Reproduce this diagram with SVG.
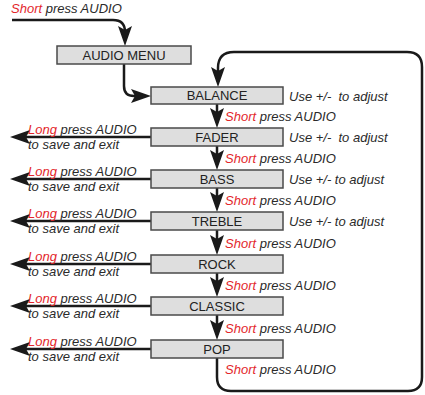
<svg xmlns="http://www.w3.org/2000/svg" width="425" height="395" viewBox="0 0 425 395">
<defs>
<marker id="ah" markerUnits="userSpaceOnUse" markerWidth="20" markerHeight="14" viewBox="0 0 20 14" refX="10" refY="7" orient="auto">
<path d="M0,0 L20,7 L0,14 L4,7 Z" fill="#1a1a1a"/>
</marker>
<style>
.box{fill:#dedede;stroke:#4a4a4a;stroke-width:1.5}
.bt{font-family:"Liberation Sans",Arial,sans-serif;font-size:13px;fill:#222;text-anchor:middle}
.it{font-family:"Liberation Sans",Arial,sans-serif;font-size:13px;font-style:italic;fill:#2a2a2a;white-space:pre}
.red{fill:#e3262b}
.ln{fill:none;stroke:#1a1a1a;stroke-width:2.5;marker-end:url(#ah)}
.ln2{fill:none;stroke:#1a1a1a;stroke-width:2.5}
</style>
</defs>
<rect width="425" height="395" fill="#fff"/>

<g id="connectors">
<path class="ln" d="M12,20 H113 Q125,20 125,32 V36"/>
<path class="ln" d="M124,64 V86 Q124,96 134,96 H141"/>
<path class="ln" d="M217,104 V118"/>
<path class="ln" d="M217,146 V160"/>
<path class="ln" d="M217,188 V202"/>
<path class="ln" d="M217,230 V245"/>
<path class="ln" d="M217,273 V287"/>
<path class="ln" d="M217,315 V330"/>
<path class="ln" d="M217,358 V377 Q217,391 231,391 H408 Q422,391 422,377 V67 Q422,52 407,52 H234 Q218,52 218,68 V77"/>
<path class="ln" d="M151,137 H20"/>
<path class="ln" d="M151,179 H20"/>
<path class="ln" d="M151,221 H20"/>
<path class="ln" d="M151,264 H20"/>
<path class="ln" d="M151,306 H20"/>
<path class="ln" d="M151,349 H20"/>
</g>

<g id="labels">
<text class="it" x="11" y="13"><tspan class="red">Short</tspan> press AUDIO</text>
<text class="it" x="225" y="121"><tspan class="red">Short</tspan> press AUDIO</text>
<text class="it" x="225" y="163"><tspan class="red">Short</tspan> press AUDIO</text>
<text class="it" x="225" y="205"><tspan class="red">Short</tspan> press AUDIO</text>
<text class="it" x="225" y="248"><tspan class="red">Short</tspan> press AUDIO</text>
<text class="it" x="225" y="290"><tspan class="red">Short</tspan> press AUDIO</text>
<text class="it" x="225" y="333"><tspan class="red">Short</tspan> press AUDIO</text>
<text class="it" x="225" y="374"><tspan class="red">Short</tspan> press AUDIO</text>
<text class="it" x="289" y="101" xml:space="preserve">Use +/-  to adjust</text>
<text class="it" x="289" y="142" xml:space="preserve">Use +/-  to adjust</text>
<text class="it" x="289" y="184">Use +/- to adjust</text>
<text class="it" x="289" y="226">Use +/- to adjust</text>
<text class="it" x="28" y="134"><tspan class="red">Long</tspan> press AUDIO</text>
<text class="it" x="28" y="149">to save and exit</text>
<text class="it" x="28" y="176"><tspan class="red">Long</tspan> press AUDIO</text>
<text class="it" x="28" y="191">to save and exit</text>
<text class="it" x="28" y="218"><tspan class="red">Long</tspan> press AUDIO</text>
<text class="it" x="28" y="233">to save and exit</text>
<text class="it" x="28" y="261"><tspan class="red">Long</tspan> press AUDIO</text>
<text class="it" x="28" y="276">to save and exit</text>
<text class="it" x="28" y="303"><tspan class="red">Long</tspan> press AUDIO</text>
<text class="it" x="28" y="318">to save and exit</text>
<text class="it" x="28" y="346"><tspan class="red">Long</tspan> press AUDIO</text>
<text class="it" x="28" y="361">to save and exit</text>
</g>

<g id="audio-menu"><rect class="box" x="57" y="46" width="134" height="18"/><text class="bt" x="124" y="60">AUDIO MENU</text></g>
<g id="balance"><rect class="box" x="151" y="87" width="132" height="17"/><text class="bt" x="217" y="100">BALANCE</text></g>
<g id="fader"><rect class="box" x="151" y="128" width="132" height="18"/><text class="bt" x="217" y="142">FADER</text></g>
<g id="bass"><rect class="box" x="151" y="170" width="132" height="18"/><text class="bt" x="217" y="184">BASS</text></g>
<g id="treble"><rect class="box" x="151" y="212" width="132" height="18"/><text class="bt" x="217" y="226">TREBLE</text></g>
<g id="rock"><rect class="box" x="151" y="255" width="132" height="18"/><text class="bt" x="217" y="269">ROCK</text></g>
<g id="classic"><rect class="box" x="151" y="297" width="132" height="18"/><text class="bt" x="217" y="311">CLASSIC</text></g>
<g id="pop"><rect class="box" x="151" y="340" width="132" height="18"/><text class="bt" x="217" y="354">POP</text></g>
</svg>
